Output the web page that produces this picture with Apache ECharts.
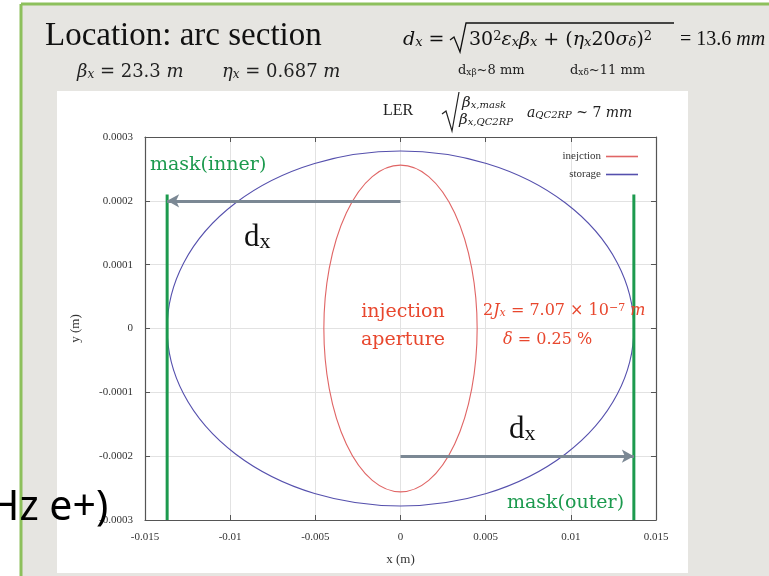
<!DOCTYPE html>
<html>
<head>
<meta charset="utf-8">
<script src="https://cdn.jsdelivr.net/npm/echarts@6/dist/echarts.min.js"></script>
<style>
  html, body { margin: 0; padding: 0; background: #ffffff; }
  #chart { width: 769px; height: 576px; }
</style>
</head>
<body>
<div id="chart"></div>
<script>
// Axis ranges and tick labels
const xMin = -0.015, xMax = 0.015, xStep = 0.005;
const yMin = -0.0003, yMax = 0.0003, yStep = 0.0001;
const xTickLabels = ['-0.015', '-0.01', '-0.005', '0', '0.005', '0.01', '0.015'];
const yTickLabels = ['-0.0003', '-0.0002', '-0.0001', '0', '0.0001', '0.0002', '0.0003'];

// Phase-space ellipses: [centre x, centre y, semi-axis x, semi-axis y]
const injectionEllipse = [0, 0, 0.0045, 0.000256];
const storageEllipse = [0, 0, 0.0137, 0.000278];

// Mask positions (x) and vertical extent of the mask markers
const maskInnerX = -0.0137;
const maskOuterX = 0.0137;
const maskTopY = 0.00021;
const maskBottomY = -0.0003;

// d_x arrows: [start, end] in data coordinates
const arrowInner = [[0, 0.0002], [-0.0137, 0.0002]];
const arrowOuter = [[0, -0.0002], [0.0137, -0.0002]];

const SERIF = "'Liberation Serif', 'DejaVu Serif', serif";
const MATH = "'DejaVu Serif', 'Liberation Serif', serif";
const RED = '#e8472e';
const GREEN = '#1c9a4e';

const chart = echarts.init(document.getElementById('chart'), null, { renderer: 'canvas' });

function ellipseItem(params, api) {
  const cx = api.value(0), cy = api.value(1), rx = api.value(2), ry = api.value(3);
  const c = api.coord([cx, cy]);
  const e = api.coord([cx + rx, cy + ry]);
  const px = Math.abs(e[0] - c[0]);
  const py = Math.abs(c[1] - e[1]);
  const d = 'M' + (c[0] - px) + ',' + c[1] +
    ' A' + px + ',' + py + ' 0 1 0 ' + (c[0] + px) + ',' + c[1] +
    ' A' + px + ',' + py + ' 0 1 0 ' + (c[0] - px) + ',' + c[1] + ' Z';
  return {
    type: 'path',
    shape: { pathData: d },
    style: { fill: 'none', stroke: api.visual('color'), lineWidth: 1.1 }
  };
}

// rich styles for math text (graphic text uses `fill` for colour)
function mathRich(size, color, family) {
  const fam = family || MATH;
  const sub = Math.round(size * 0.68);
  return {
    n: { fontFamily: fam, fontSize: size, fill: color },
    i: { fontFamily: fam, fontSize: size, fontStyle: 'italic', fill: color },
    s: { fontFamily: fam, fontSize: sub, fontStyle: 'italic', fill: color, verticalAlign: 'bottom' },
    sn: { fontFamily: fam, fontSize: sub, fill: color, verticalAlign: 'bottom' },
    sup: { fontFamily: fam, fontSize: sub, fill: color, verticalAlign: 'top' }
  };
}

function txt(x, y, text, extra) {
  return {
    type: 'text', x: x, y: y, z: 100,
    style: Object.assign({ text: text, verticalAlign: 'middle', align: 'left' }, extra)
  };
}

const dxRich = {
  d: { fontFamily: SERIF, fontSize: 31, fill: '#111' },
  x: { fontFamily: SERIF, fontSize: 22, fill: '#111', verticalAlign: 'bottom' }
};

const graphics = [
  // slide backdrop
  { type: 'rect', z: -20, shape: { x: 22, y: 5, width: 747, height: 571 }, style: { fill: '#e6e5e1' } },
  { type: 'line', z: -19, shape: { x1: 21, y1: 4, x2: 769, y2: 4 }, style: { stroke: '#8dc05c', lineWidth: 3 } },
  { type: 'line', z: -19, shape: { x1: 21, y1: 4, x2: 21, y2: 576 }, style: { stroke: '#8dc05c', lineWidth: 3 } },
  // white figure panel
  { type: 'rect', z: -18, shape: { x: 57, y: 91, width: 631, height: 482 }, style: { fill: '#ffffff' } },

  // headings
  txt(45, 36, 'Location: arc section', { font: '33px ' + SERIF, fill: '#111' }),
  txt(77, 72, '{i|β}{s|x}{n| = 23.3 }{i|m}', { rich: mathRich(18, '#222') }),
  txt(222, 72, '{i|η}{s|x}{n| = 0.687 }{i|m}', { rich: mathRich(18, '#222') }),

  // d_x formula
  txt(403, 40, '{i|d}{s|x}{n| = }', { rich: mathRich(19, '#111') }),
  { type: 'polyline', z: 100, shape: { points: [[450, 40], [454, 37], [460, 52], [466, 23], [674, 23]] }, style: { stroke: '#111', lineWidth: 1.3, fill: 'none' } },
  txt(469, 40, '{n|30}{sup|2}{i|ε}{s|x}{i|β}{s|x}{n| + (}{i|η}{s|x}{n|20}{i|σ}{s|δ}{n|)}{sup|2}', { rich: mathRich(19, '#111') }),
  txt(680, 40, '{n|= 13.6 }{i|mm}', { rich: mathRich(20, '#111', SERIF) }),
  txt(458, 71, '{n|d}{sn|xβ}{n|~8 mm}', { rich: mathRich(13, '#222') }),
  txt(570, 71, '{n|d}{sn|xδ}{n|~11 mm}', { rich: mathRich(13, '#222') }),

  // LER aperture relation
  txt(383, 111, 'LER', { font: '16px ' + SERIF, fill: '#222' }),
  { type: 'polyline', z: 100, shape: { points: [[442, 114], [446, 111], [452, 131], [459, 92]] }, style: { stroke: '#222', lineWidth: 1.2, fill: 'none' } },
  txt(462, 103, '{i|β}{s|x,mask}', { rich: mathRich(15, '#222') }),
  txt(459, 120, '{i|β}{s|x,QC2RP}', { rich: mathRich(15, '#222') }),
  txt(527, 113, '{i|a}{s|QC2RP}{n| ~ 7 }{i|mm}', { rich: mathRich(14, '#222') }),

  // annotations inside the plot
  txt(150, 165, 'mask(inner)', { font: '19px ' + MATH, fill: GREEN }),
  txt(507, 503, 'mask(outer)', { font: '19px ' + MATH, fill: GREEN }),
  txt(244, 238, '{d|d}{x|x}', { rich: dxRich }),
  txt(509, 430, '{d|d}{x|x}', { rich: dxRich }),
  txt(403, 312, 'injection', { font: '19px ' + MATH, fill: RED, align: 'center' }),
  txt(403, 340, 'aperture', { font: '19px ' + MATH, fill: RED, align: 'center' }),
  txt(483, 311, '{n|2}{i|J}{s|x}{n| = 7.07 × 10}{sup|−7}{n| }{i|m}', { rich: mathRich(16, RED) }),
  txt(503, 340, '{i|δ}{n| = 0.25 %}', { rich: mathRich(16, RED) }),

  // overlapping slide text
  txt(-11, 508, 'Hz e+)', { font: '41px "Noto Sans", "Open Sans", sans-serif', fill: '#000' })
];

const tickLabel = (labels, min, step) => (v) => {
  const k = Math.round((v - min) / step);
  return labels[k] !== undefined ? labels[k] : '';
};

const axisCommon = {
  type: 'value',
  axisLine: { show: true, onZero: false, lineStyle: { color: '#555', width: 1.2 } },
  axisTick: { show: true, inside: true, length: 5, lineStyle: { color: '#555' } },
  axisLabel: { fontFamily: SERIF, fontSize: 11, color: '#333' }
};

const option = {
  backgroundColor: '#ffffff',
  animation: false,
  grid: { left: 145, right: 113, top: 137, bottom: 56 },
  legend: {
    orient: 'vertical',
    right: 126, top: 146,
    align: 'right',
    itemWidth: 32, itemHeight: 1.6, itemGap: 7,
    textStyle: { fontFamily: SERIF, fontSize: 11, color: '#333' },
    data: [{ name: 'inejction', icon: 'rect' }, { name: 'storage', icon: 'rect' }]
  },
  xAxis: [
    Object.assign({}, axisCommon, {
      min: xMin, max: xMax, interval: xStep,
      name: 'x (m)', nameLocation: 'middle', nameGap: 33,
      nameTextStyle: { fontFamily: SERIF, fontSize: 13, color: '#333' },
      axisLabel: Object.assign({}, axisCommon.axisLabel, { margin: 12, formatter: tickLabel(xTickLabels, xMin, xStep) }),
      splitLine: { show: true, lineStyle: { color: '#e2e2e2', width: 1 } }
    }),
    Object.assign({}, axisCommon, {
      position: 'top', min: xMin, max: xMax, interval: xStep,
      axisLabel: { show: false }, splitLine: { show: false }
    })
  ],
  yAxis: [
    Object.assign({}, axisCommon, {
      min: yMin, max: yMax, interval: yStep,
      name: 'y (m)', nameLocation: 'middle', nameGap: 63,
      nameTextStyle: { fontFamily: SERIF, fontSize: 13, color: '#333' },
      axisLabel: Object.assign({}, axisCommon.axisLabel, { margin: 12, formatter: tickLabel(yTickLabels, yMin, yStep) }),
      splitLine: { show: true, lineStyle: { color: '#e2e2e2', width: 1 } }
    }),
    Object.assign({}, axisCommon, {
      position: 'right', min: yMin, max: yMax, interval: yStep,
      axisLabel: { show: false }, splitLine: { show: false }
    })
  ],
  series: [
    {
      name: 'inejction', type: 'custom', renderItem: ellipseItem,
      itemStyle: { color: '#e06565' }, z: 3,
      data: [injectionEllipse]
    },
    {
      name: 'storage', type: 'custom', renderItem: ellipseItem,
      itemStyle: { color: '#5550ad' }, z: 3,
      data: [storageEllipse]
    },
    {
      name: 'mask inner', type: 'line', symbol: 'none', z: 4,
      lineStyle: { color: GREEN, width: 3 },
      data: [[maskInnerX, maskTopY], [maskInnerX, maskBottomY]]
    },
    {
      name: 'mask outer', type: 'line', symbol: 'none', z: 4,
      lineStyle: { color: GREEN, width: 3 },
      data: [[maskOuterX, maskTopY], [maskOuterX, maskBottomY]]
    },
    {
      name: 'dx arrows', type: 'line', data: [], z: 5,
      markLine: {
        silent: true,
        symbol: ['none', 'arrow'],
        symbolSize: [10, 12],
        label: { show: false },
        lineStyle: { color: '#7b8894', width: 3, type: 'solid' },
        data: [
          [{ coord: arrowInner[0] }, { coord: arrowInner[1] }],
          [{ coord: arrowOuter[0] }, { coord: arrowOuter[1] }]
        ]
      }
    }
  ],
  graphic: graphics
};

chart.setOption(option);
</script>
</body>
</html>
